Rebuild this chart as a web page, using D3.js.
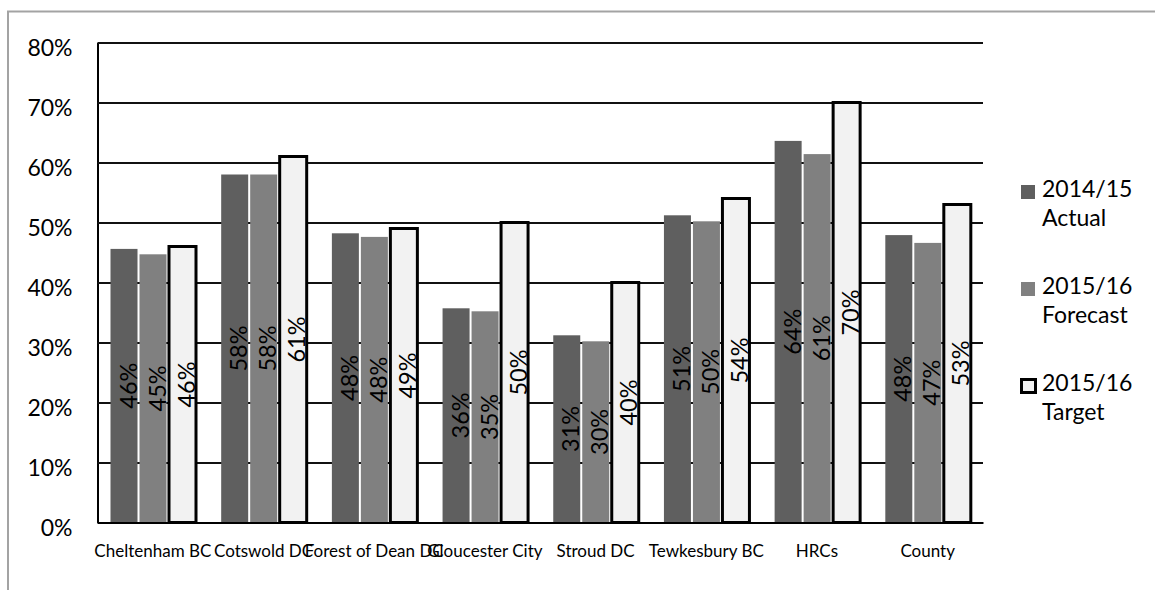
<!DOCTYPE html>
<html>
<head>
<meta charset="utf-8">
<script src="https://cdn.jsdelivr.net/npm/d3@7"></script>
<style>
  html, body { margin: 0; padding: 0; background: #fff; }
  svg { display: block; font-family: Lato, "Open Sans", sans-serif; }
</style>
</head>
<body>
<svg id="chart" width="1155" height="590"></svg>
<script>
// Recycling rates by authority
const categories = ["Cheltenham BC", "Cotswold DC", "Forest of Dean DC", "Gloucester City",
                    "Stroud DC", "Tewkesbury BC", "HRCs", "County"];
const actual2014   = [0.456, 0.580, 0.482, 0.357, 0.312, 0.512, 0.636, 0.479];
const forecast2015 = [0.447, 0.580, 0.476, 0.352, 0.302, 0.502, 0.614, 0.466];
const target2015   = [0.46, 0.61, 0.49, 0.50, 0.40, 0.54, 0.70, 0.53];
const seriesNames  = ["2014/15 Actual", "2015/16 Forecast", "2015/16 Target"];
const yTicks       = [0, 0.1, 0.2, 0.3, 0.4, 0.5, 0.6, 0.7, 0.8];

const series = [
  { key: "actual",   name: seriesNames[0], values: actual2014,   fill: "#5f5f5f", stroke: "none" },
  { key: "forecast", name: seriesNames[1], values: forecast2015, fill: "#808080", stroke: "none" },
  { key: "target",   name: seriesNames[2], values: target2015,   fill: "#f2f2f2", stroke: "#000" }
];

const svg = d3.select("#chart");
const plot = { left: 97.5, right: 983, top: 42.5, bottom: 522.5 };

// outer chart border
svg.append("rect")
  .attr("x", 8).attr("y", 11.5)
  .attr("width", 1170).attr("height", 620)
  .attr("fill", "none").attr("stroke", "#a3a3a3").attr("stroke-width", 2);

const y = d3.scaleLinear().domain([0, 0.8]).range([plot.bottom, plot.top]);
const x0 = d3.scaleBand().domain(categories).range([plot.left, plot.right]).padding(0);
const x1 = d3.scaleBand().domain(series.map(s => s.key)).range([12, 99]).padding(0);
const pct = d3.format(".0%");

// value axis with gridlines
const yAxis = svg.append("g")
  .attr("transform", `translate(${plot.left},0)`)
  .call(d3.axisLeft(y).tickValues(yTicks).tickFormat(pct)
        .tickSize(-(plot.right - plot.left)).tickSizeOuter(0).tickPadding(25));
yAxis.select(".domain").attr("stroke", "#000").attr("stroke-width", 2);
yAxis.selectAll(".tick line").attr("stroke", "#111").attr("stroke-width", 1.8);
yAxis.selectAll(".tick text")
  .attr("fill", "#000").attr("font-size", 23).attr("dy", "0.57em")
  .attr("font-family", "Lato, 'Open Sans', sans-serif");

// bars
const groups = svg.append("g").selectAll("g")
  .data(categories)
  .join("g")
  .attr("transform", d => `translate(${x0(d)},0)`);

series.forEach(s => {
  groups.append("rect")
    .attr("class", "bar-" + s.key)
    .attr("x", s.stroke === "none" ? x1(s.key) + 1 : x1(s.key) + 1.5)
    .attr("width", x1.bandwidth() - 2)
    .attr("y", (d, i) => y(s.values[i]))
    .attr("height", (d, i) => y(0) - y(s.values[i]))
    .attr("fill", s.fill)
    .attr("stroke", s.stroke)
    .attr("stroke-width", s.stroke === "none" ? 0 : 3);
});

// category axis
const xAxis = svg.append("g")
  .attr("transform", `translate(0,${plot.bottom})`)
  .call(d3.axisBottom(x0).tickSize(0).tickPadding(22));
xAxis.select(".domain").attr("stroke", "#000").attr("stroke-width", 2);
xAxis.selectAll(".tick text")
  .attr("fill", "#000").attr("font-size", 17)
  .attr("font-family", "Lato, 'Open Sans', sans-serif");

// rotated value labels
series.forEach(s => {
  groups.append("text")
    .attr("transform", (d, i) => {
      const cx = x1(s.key) + x1.bandwidth() / 2 + 12.5;
      const cy = (y(s.values[i]) + y(0)) / 2;
      return `translate(${cx},${cy}) rotate(-90)`;
    })
    .attr("text-anchor", "middle")
    .attr("font-size", 23.5)
    .attr("fill", "#000")
    .text((d, i) => pct(s.values[i]));
});

// legend
const legend = svg.append("g").attr("transform", "translate(1021,0)");
const legendTop = [185, 282, 379];
series.forEach((s, i) => {
  const g = legend.append("g").attr("transform", `translate(0,${legendTop[i]})`);
  if (s.stroke === "none") {
    g.append("rect").attr("x", 0).attr("y", 0).attr("width", 14).attr("height", 14).attr("fill", s.fill);
  } else {
    g.append("rect").attr("x", 0.5).attr("y", 0.5).attr("width", 14).attr("height", 13)
      .attr("fill", s.fill).attr("stroke", s.stroke).attr("stroke-width", 3);
  }
  const parts = s.name.split(" ");
  const t = g.append("text").attr("font-size", 23).attr("fill", "#000");
  t.append("tspan").attr("x", 21).attr("y", 12).text(parts[0]);
  t.append("tspan").attr("x", 21).attr("y", 41).text(parts[1]);
});
</script>
</body>
</html>
